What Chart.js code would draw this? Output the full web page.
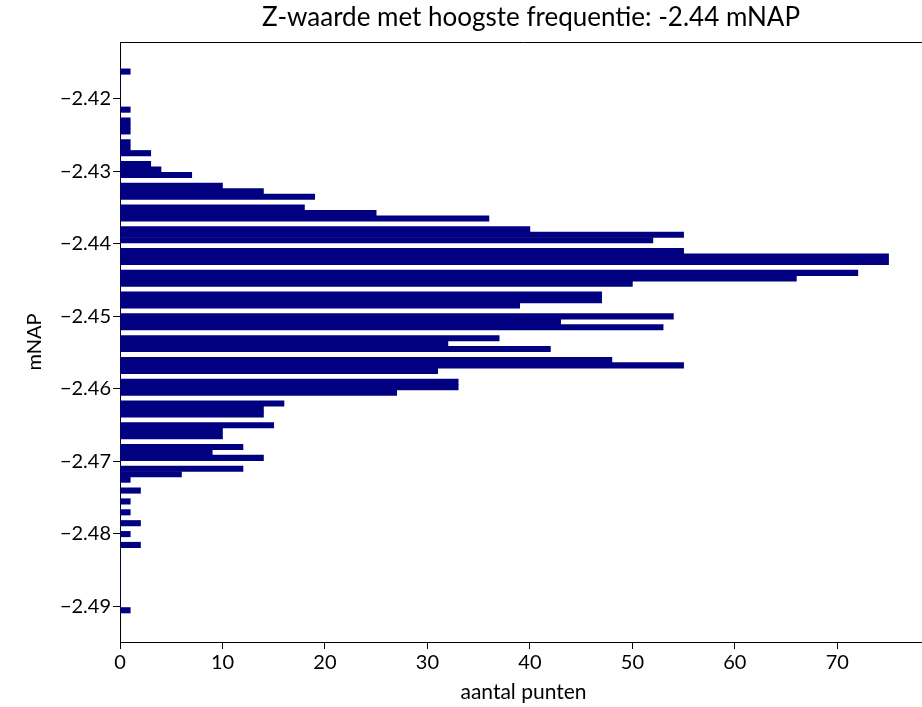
<!DOCTYPE html>
<html><head><meta charset="utf-8">
<script src="https://cdn.jsdelivr.net/npm/chart.js@4"></script>
<style>html,body{margin:0;padding:0;background:#fff;overflow:hidden;} canvas{display:block;}</style>
</head><body>
<canvas id="c" width="940" height="707"></canvas>
<script>
// Histogram bin centres (mNAP)
const binCenters = [
-2.490525,-2.489775,-2.489025,-2.488275,-2.487525,-2.486775,-2.486025,-2.485275,-2.484525,-2.483775,
-2.483025,-2.482275,-2.481525,-2.480775,-2.480025,-2.479275,-2.478525,-2.477775,-2.477025,-2.476275,
-2.475525,-2.474775,-2.474025,-2.473275,-2.472525,-2.471775,-2.471025,-2.470275,-2.469525,-2.468775,
-2.468025,-2.467275,-2.466525,-2.465775,-2.465025,-2.464275,-2.463525,-2.462775,-2.462025,-2.461275,
-2.460525,-2.459775,-2.459025,-2.458275,-2.457525,-2.456775,-2.456025,-2.455275,-2.454525,-2.453775,
-2.453025,-2.452275,-2.451525,-2.450775,-2.450025,-2.449275,-2.448525,-2.447775,-2.447025,-2.446275,
-2.445525,-2.444775,-2.444025,-2.443275,-2.442525,-2.441775,-2.441025,-2.440275,-2.439525,-2.438775,
-2.438025,-2.437275,-2.436525,-2.435775,-2.435025,-2.434275,-2.433525,-2.432775,-2.432025,-2.431275,
-2.430525,-2.429775,-2.429025,-2.428275,-2.427525,-2.426775,-2.426025,-2.425275,-2.424525,-2.423775,
-2.423025,-2.422275,-2.421525,-2.420775,-2.420025,-2.419275,-2.418525,-2.417775,-2.417025,-2.416275
];
// Number of points per bin (aantal punten)
const counts = [
1,0,0,0,0,0,0,0,0,0,
0,0,2,0,1,0,2,0,1,0,
1,0,2,0,1,6,12,0,14,9,
12,0,10,10,15,0,14,14,16,0,
27,33,33,0,31,55,48,0,42,32,
37,0,53,43,54,0,39,47,47,0,
50,66,72,0,75,75,55,0,52,55,
40,0,36,25,18,0,19,14,10,0,
7,4,3,0,3,1,1,0,1,1,
1,0,1,0,0,0,0,0,0,1
];
const yTickValues = [-2.49,-2.48,-2.47,-2.46,-2.45,-2.44,-2.43,-2.42];
const xTickValues = [0,10,20,30,40,50,60,70];
const titleText = 'Z-waarde met hoogste frequentie: -2.44 mNAP';
const xLabel = 'aantal punten';
const yLabel = 'mNAP';

const FONT = 'Lato';

const framePlugin = {
  id: 'frame',
  afterDraw(chart) {
    const {ctx, chartArea} = chart;
    ctx.save();
    ctx.strokeStyle = '#000';
    ctx.lineWidth = 1;
    ctx.beginPath();
    ctx.moveTo(chartArea.left, Math.round(chartArea.top) + 0.5);
    ctx.lineTo(chartArea.right, Math.round(chartArea.top) + 0.5);
    ctx.stroke();
    ctx.font = '26px ' + FONT;
    ctx.fillStyle = '#000';
    ctx.textAlign = 'center';
    ctx.textBaseline = 'middle';
    ctx.fillText(titleText, 531, 18);
    ctx.restore();
  }
};

new Chart(document.getElementById('c'), {
  type: 'bar',
  data: {
    datasets: [{
      data: binCenters.map((c, i) => ({x: counts[i], y: c})),
      backgroundColor: '#000080',
      borderWidth: 0,
      barPercentage: 1,
      categoryPercentage: 1
    }]
  },
  options: {
    responsive: false,
    animation: false,
    devicePixelRatio: 1,
    indexAxis: 'y',
    layout: {padding: {top: 42, right: 13, left: 0, bottom: 0}},
    plugins: {legend: {display: false}, tooltip: {enabled: false}, title: {display: false}},
    scales: {
      x: {
        type: 'linear', position: 'bottom', min: 0, max: 78.75,
        afterBuildTicks: s => { s.ticks = xTickValues.map(v => ({value: v})); },
        afterFit: s => { s.height = 65; },
        grid: {drawOnChartArea: false, drawTicks: true, tickLength: 7, color: '#000', lineWidth: 1},
        border: {display: true, color: '#000', width: 1},
        ticks: {color: '#000', font: {family: FONT, size: 20}, padding: 2, maxRotation: 0, autoSkip: false,
                callback: v => String(v)},
        title: {display: true, text: xLabel, color: '#000', font: {family: FONT, size: 21, lineHeight: 1.2}, padding: {top: 0, bottom: 2}}
      },
      y: {
        type: 'linear', position: 'left', min: -2.4949, max: -2.4122, offset: false,
        afterBuildTicks: s => { s.ticks = yTickValues.map(v => ({value: v})); },
        afterFit: s => { s.width = 120; },
        grid: {offset: false, drawOnChartArea: false, drawTicks: true, tickLength: 7, color: '#000', lineWidth: 1},
        border: {display: true, color: '#000', width: 1},
        ticks: {color: '#000', font: {family: FONT, size: 20}, padding: 2, autoSkip: false,
                callback: v => (v < 0 ? '\u2212' : '') + Math.abs(v).toFixed(2)},
        title: {display: true, text: yLabel, color: '#000', font: {family: FONT, size: 20, lineHeight: 1.2}, padding: {top: 23, bottom: 0}}
      }
    }
  },
  plugins: [framePlugin]
});
</script>
</body></html>
